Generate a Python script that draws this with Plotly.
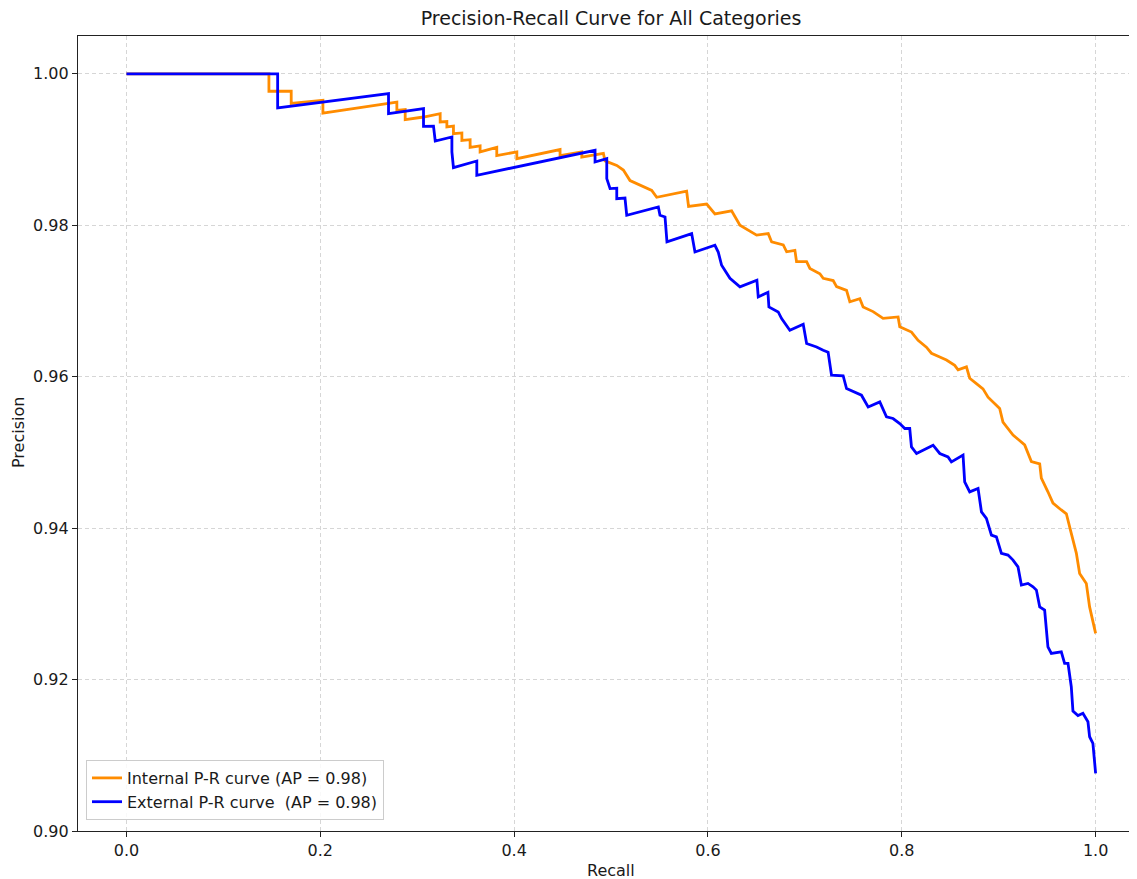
import plotly.graph_objects as go

# ---- data (recall, precision) ----
internal_recall = [
    0.0, 0.147, 0.147, 0.170, 0.170, 0.2027, 0.2027, 0.2704, 0.2790, 0.2790,
    0.2876, 0.2876, 0.3065, 0.3237, 0.3237, 0.3306, 0.3306, 0.3374, 0.3374, 0.3461,
    0.3461, 0.3546, 0.3546, 0.3649, 0.3649, 0.3821, 0.3821, 0.4028, 0.4028, 0.4474,
    0.4474, 0.4698, 0.4698, 0.4921, 0.4938, 0.5059, 0.5127, 0.5196, 0.5299, 0.5420,
    0.5471, 0.5746, 0.5780, 0.5800, 0.5987, 0.6072, 0.6244, 0.6330, 0.6502, 0.6622,
    0.6657, 0.6777, 0.6812, 0.6897, 0.6914, 0.7018, 0.7052, 0.7155, 0.7189, 0.7292,
    0.7327, 0.7430, 0.7464, 0.7567, 0.7601, 0.7704, 0.7807, 0.7962, 0.7979, 0.8100,
    0.8168, 0.8254, 0.8306, 0.8392, 0.8461, 0.8546, 0.8581, 0.8667, 0.8701, 0.8770,
    0.8838, 0.8890, 0.9010, 0.9044, 0.9148, 0.9268, 0.9337, 0.9423, 0.9440, 0.9508,
    0.9560, 0.9646, 0.9698, 0.9749, 0.9801, 0.9835, 0.9904, 0.9938, 0.9973, 1.0,
]
internal_precision = [
    1.0, 1.0, 0.9977, 0.9977, 0.9961, 0.9965, 0.9948, 0.99615, 0.99628, 0.99518,
    0.9953, 0.99395, 0.9943, 0.99475, 0.99364, 0.9937, 0.9930, 0.9931, 0.9921, 0.9922,
    0.9912, 0.9913, 0.9903, 0.9905, 0.9897, 0.9903, 0.9892, 0.9897, 0.9888, 0.9900,
    0.9892, 0.9897, 0.9890, 0.9895, 0.9885, 0.9879, 0.9873, 0.9859, 0.9853, 0.9846,
    0.9837, 0.9844, 0.9845, 0.9825, 0.9828, 0.9815, 0.9819, 0.9800, 0.9787, 0.9789,
    0.9778, 0.9774, 0.9765, 0.9767, 0.9752, 0.9752, 0.9743, 0.9736, 0.9730, 0.9727,
    0.9719, 0.9714, 0.9699, 0.9703, 0.9692, 0.9686, 0.9677, 0.9679, 0.9666, 0.9659,
    0.9648, 0.9639, 0.9631, 0.9626, 0.9622, 0.9615, 0.9609, 0.9613, 0.9598, 0.9591,
    0.9584, 0.9573, 0.9558, 0.9540, 0.9523, 0.9510, 0.9488, 0.9485, 0.9466, 0.9448,
    0.9433, 0.9424, 0.9419, 0.9393, 0.9367, 0.9340, 0.9327, 0.9296, 0.9274, 0.9261,
]

external_recall = [
    0.0, 0.1560, 0.1560, 0.2704, 0.2704, 0.3065, 0.3065, 0.3168, 0.3186, 0.3358,
    0.3358, 0.3374, 0.3615, 0.3615, 0.4835, 0.4835, 0.4956, 0.4956, 0.4990, 0.5059,
    0.5059, 0.5144, 0.5162, 0.5488, 0.5505, 0.5557, 0.5577, 0.5832, 0.5866, 0.6072,
    0.6106, 0.6141, 0.6227, 0.6330, 0.6505, 0.6519, 0.6619, 0.6629, 0.6725, 0.6760,
    0.6845, 0.6983, 0.7018, 0.7121, 0.7189, 0.7240, 0.7275, 0.7395, 0.7430, 0.7515,
    0.7584, 0.7653, 0.7773, 0.7842, 0.7910, 0.7979, 0.8031, 0.8082, 0.8100, 0.8152,
    0.8323, 0.8392, 0.8477, 0.8512, 0.8632, 0.8649, 0.8701, 0.8787, 0.8822, 0.8873,
    0.8925, 0.8976, 0.9028, 0.9096, 0.9148, 0.9199, 0.9234, 0.9302, 0.9354, 0.9389,
    0.9423, 0.9474, 0.9492, 0.9508, 0.9543, 0.9646, 0.9680, 0.9715, 0.9749, 0.9766,
    0.9818, 0.9869, 0.9921, 0.9938, 0.9972, 0.9990, 1.0,
]
external_precision = [
    1.0, 1.0, 0.99549, 0.99739, 0.99475, 0.99541, 0.99307, 0.99310, 0.99113, 0.99166,
    0.98968, 0.98762, 0.98849, 0.98660, 0.98990, 0.98836, 0.98880, 0.98617, 0.98484, 0.98490,
    0.98352, 0.98360, 0.98132, 0.98242, 0.98132, 0.98110, 0.97780, 0.97890, 0.97647, 0.97736,
    0.97647, 0.97472, 0.97300, 0.97186, 0.97274, 0.97054, 0.97115, 0.96921, 0.96855, 0.96768,
    0.96614, 0.96693, 0.96438, 0.96393, 0.96350, 0.96323, 0.96020, 0.96013, 0.95844, 0.95799,
    0.95756, 0.95601, 0.95667, 0.95469, 0.95448, 0.95382, 0.95316, 0.95316, 0.95073, 0.94986,
    0.95096, 0.94986, 0.94941, 0.94875, 0.94964, 0.94611, 0.94479, 0.94524, 0.94215, 0.94128,
    0.93908, 0.93885, 0.93666, 0.93644, 0.93578, 0.93489, 0.93248, 0.93270, 0.93225, 0.93182,
    0.92961, 0.92917, 0.92610, 0.92433, 0.92346, 0.92367, 0.92214, 0.92214, 0.91905, 0.91584,
    0.91525, 0.91554, 0.91443, 0.91245, 0.91158, 0.90937, 0.90762,
]

internal_label = "Internal P-R curve (AP = 0.98)"
external_label = "External P-R curve \u00a0(AP = 0.98)"
x_ticks = [0.0, 0.2, 0.4, 0.6, 0.8, 1.0]
y_ticks = [0.90, 0.92, 0.94, 0.96, 0.98, 1.00]

FONT = "DejaVu Sans"
TXT = "#1a1a1a"

# page body has an 8px margin: figure is drawn 8px right/down of the window corner
W, H = 1129, 871
L, T = 70, 28
PLOT_BOTTOM = 823
B = H - PLOT_BOTTOM
PW, PH = W - L, PLOT_BOTTOM - T

fig = go.Figure()
fig.add_trace(go.Scatter(x=internal_recall, y=internal_precision, mode="lines",
                         name=internal_label, line=dict(color="#FF8C00", width=2.8)))
fig.add_trace(go.Scatter(x=external_recall, y=external_precision, mode="lines",
                         name=external_label, line=dict(color="#0000FF", width=2.8)))

axis_common = dict(
    showgrid=True, gridcolor="#d6d6d6", griddash="4px,3px", gridwidth=1,
    zeroline=False, showline=True, linecolor="#222222", linewidth=1.3,
    ticks="outside", ticklen=5, tickwidth=1.2, tickcolor="#222222",
    tickfont=dict(family=FONT, size=16, color=TXT),
)

fig.update_layout(
    width=W, height=H,
    margin=dict(l=L, r=0, t=T, b=B, autoexpand=False),
    paper_bgcolor="white", plot_bgcolor="white",
    font=dict(family=FONT, color=TXT),
    title=dict(text="Precision-Recall Curve for All Categories",
               x=(603 - L) / PW, xanchor="center", xref="paper",
               y=1 - 10 / H, yanchor="middle", yref="container",
               font=dict(family=FONT, size=19, color=TXT)),
    xaxis=dict(range=[-0.05, 1.0427], tickvals=x_ticks,
               ticktext=[f"{v:.1f}" for v in x_ticks], mirror=True, **axis_common),
    yaxis=dict(range=[0.9, 1.005], tickvals=y_ticks,
               ticktext=[f"{v:.2f}" for v in y_ticks], mirror=False, **axis_common),
    legend=dict(x=8 / PW, y=11 / PH, xanchor="left", yanchor="bottom",
                bgcolor="rgba(255,255,255,0.85)", bordercolor="#cccccc", borderwidth=1,
                font=dict(family=FONT, size=16, color=TXT), itemwidth=30),
    showlegend=True,
    annotations=[
        dict(text="Recall", xref="paper", yref="paper", x=(603 - L) / PW,
             y=(PLOT_BOTTOM - 862) / PH, xanchor="center", yanchor="middle", showarrow=False,
             font=dict(family=FONT, size=16, color=TXT)),
        dict(text="Precision", xref="paper", yref="paper", x=(10 - L) / PW,
             y=(PLOT_BOTTOM - 425) / PH, xanchor="center", yanchor="middle", showarrow=False,
             textangle=-90, font=dict(family=FONT, size=16, color=TXT)),
    ],
)

fig.write_html("out.html")
